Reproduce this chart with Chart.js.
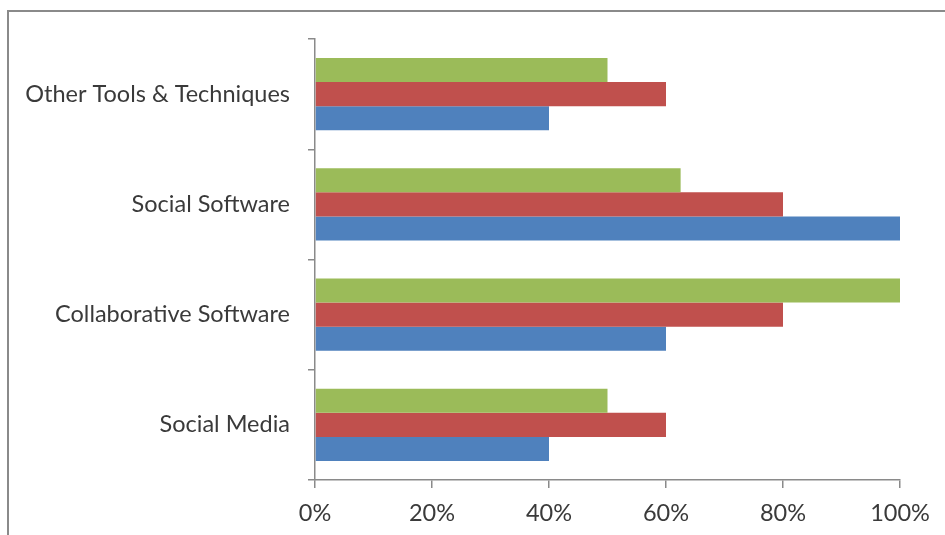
<!DOCTYPE html>
<html>
<head>
<meta charset="utf-8">
<script src="https://cdn.jsdelivr.net/npm/chart.js@4/dist/chart.umd.min.js"></script>
<style>
  html, body { margin: 0; padding: 0; background: #fff; }
  #wrap { position: relative; width: 945px; height: 535px; overflow: hidden; }
  /* frame of the chart box, cut off at right and bottom */
  #frame {
    position: absolute; left: 7px; top: 10px; width: 1000px; height: 600px;
    border-left: 2px solid #8a8a8a; border-top: 2px solid #8a8a8a;
  }
  #chart { position: absolute; left: 0; top: 0; }
</style>
</head>
<body>
<div id="wrap">
  <div id="frame"></div>
  <canvas id="chart" width="945" height="535"></canvas>
</div>
<script>
// Categories listed top to bottom
const categories = ['Other Tools & Techniques', 'Social Software', 'Collaborative Software', 'Social Media'];

// Series values (percent), one value per category
const greenValues = [50, 62.5, 100, 50];
const redValues = [60, 80, 80, 60];
const blueValues = [40, 100, 60, 40];

const xTicks = [0, 20, 40, 60, 80, 100];

const textColor = '#3a3a3a';
const axisColor = '#8a8a8a';
const labelFont = { family: 'Lato', size: 23.5 };

const ctx = document.getElementById('chart');
new Chart(ctx, {
  type: 'bar',
  data: {
    labels: categories,
    datasets: [
      { label: 'Series 3', data: greenValues, backgroundColor: '#9BBB59' },
      { label: 'Series 2', data: redValues, backgroundColor: '#C0504D' },
      { label: 'Series 1', data: blueValues, backgroundColor: '#4F81BD' }
    ]
  },
  options: {
    indexAxis: 'y',
    responsive: false,
    animation: false,
    categoryPercentage: 0.655,
    barPercentage: 1,
    layout: { padding: { top: 39, right: 45, left: 0, bottom: 0 } },
    plugins: {
      legend: { display: false },
      tooltip: { enabled: false }
    },
    scales: {
      x: {
        min: 0,
        max: 100,
        afterBuildTicks: (scale) => {
          scale.ticks = xTicks.map(v => ({ value: v }));
        },
        afterFit: (scale) => { scale.height = 55; },
        border: { color: axisColor, width: 1.5 },
        grid: { drawOnChartArea: false, color: axisColor, tickLength: 8, lineWidth: 1.5 },
        ticks: {
          color: textColor,
          font: labelFont,
          padding: 11,
          maxRotation: 0,
          callback: (v) => v + '%'
        }
      },
      y: {
        afterFit: (scale) => { scale.width = 315; },
        border: { color: axisColor, width: 1.5 },
        grid: { drawOnChartArea: false, color: axisColor, tickLength: 7, lineWidth: 1.5, offset: true },
        ticks: {
          color: textColor,
          font: labelFont,
          padding: 18
        }
      }
    }
  }
});
</script>
</body>
</html>
